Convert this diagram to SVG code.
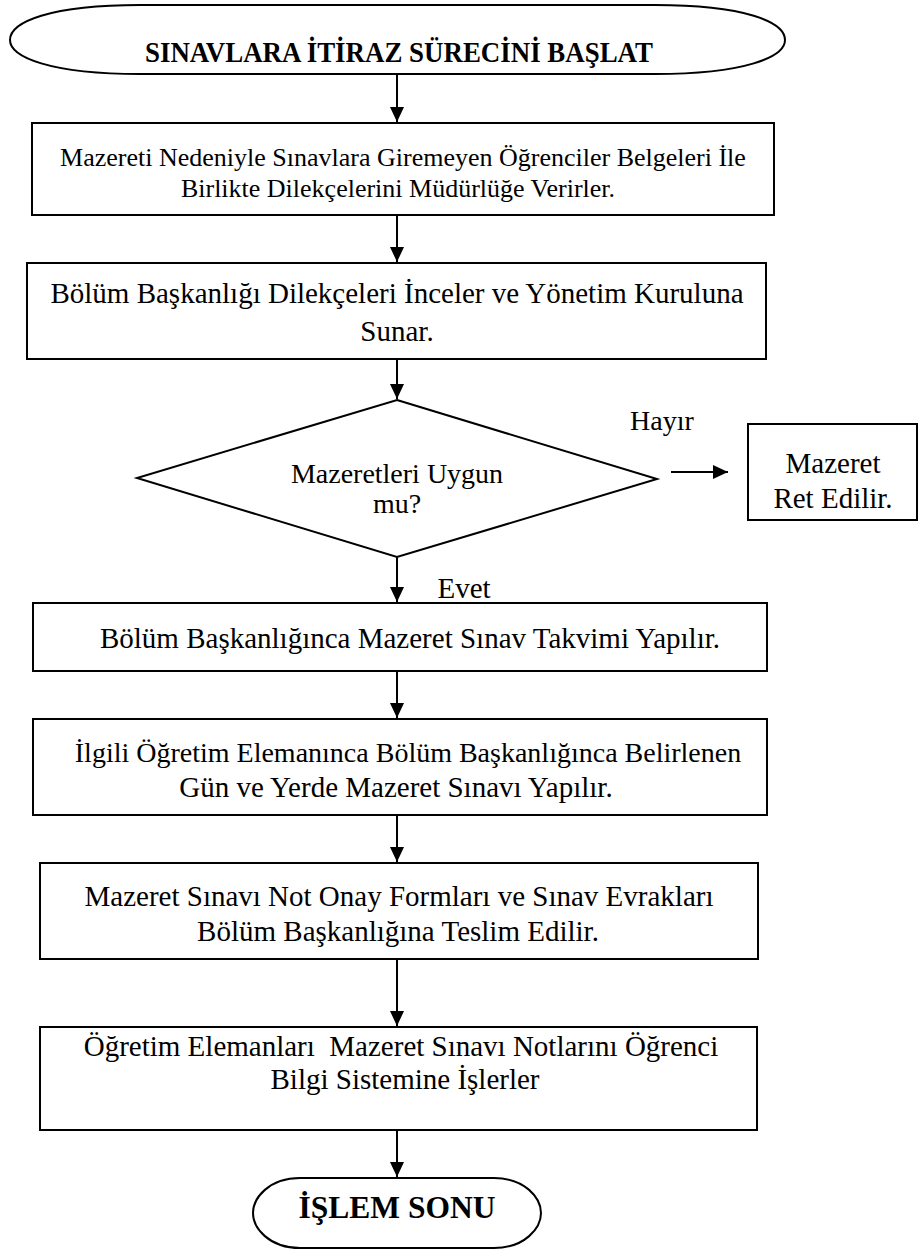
<svg xmlns="http://www.w3.org/2000/svg" width="922" height="1250" viewBox="0 0 922 1250">
<style>
.sh{fill:#fff;stroke:#000;stroke-width:2}
.t{font-family:"Liberation Serif","Times New Roman",serif;fill:#000;text-anchor:middle}
.b{font-weight:bold}
.c{stroke:#000;stroke-width:2;fill:none}
</style>
<defs>
<marker id="ah" markerUnits="userSpaceOnUse" markerWidth="16" markerHeight="16" viewBox="0 0 16 16" refX="15" refY="8" orient="auto">
<path d="M0,1 L15,8 L0,15 Z" fill="#000"/>
</marker>
</defs>
<rect width="922" height="1250" fill="#fff"/>
<g id="start">
<path class="sh" d="M140 5 H655 C745 5 785 22 785 40 C785 57 745 74 655 74 H140 C50 74 10 57 10 40 C10 22 50 5 140 5 Z"/>
<text class="t b" x="399" y="62" font-size="30" textLength="508" lengthAdjust="spacingAndGlyphs">SINAVLARA İTİRAZ SÜRECİNİ BAŞLAT</text>
</g>
<g id="box1">
<rect class="sh" x="32" y="123" width="742" height="92"/>
<text class="t" x="403" y="166" font-size="26">Mazereti Nedeniyle Sınavlara Giremeyen Öğrenciler Belgeleri İle</text>
<text class="t" x="398" y="197" font-size="26">Birlikte Dilekçelerini Müdürlüğe Verirler.</text>
</g>
<g id="box2">
<rect class="sh" x="27" y="263" width="739" height="96"/>
<text class="t" x="397" y="303" font-size="29">Bölüm Başkanlığı Dilekçeleri İnceler ve Yönetim Kuruluna</text>
<text class="t" x="397" y="341" font-size="29">Sunar.</text>
</g>
<g id="decision">
<path class="sh" d="M397 400 L657 479 L397 557 L137 478 Z"/>
<text class="t" x="397" y="483" font-size="28">Mazeretleri Uygun</text>
<text class="t" x="397" y="513" font-size="28">mu?</text>
</g>
<g id="reject">
<rect class="sh" x="748" y="424" width="169" height="96"/>
<text class="t" x="833" y="473" font-size="29">Mazeret</text>
<text class="t" x="833" y="508" font-size="29">Ret Edilir.</text>
</g>
<g id="box3">
<rect class="sh" x="33" y="603" width="734" height="68"/>
<text class="t" x="410" y="648" font-size="29">Bölüm Başkanlığınca Mazeret Sınav Takvimi Yapılır.</text>
</g>
<g id="box4">
<rect class="sh" x="33" y="719" width="734" height="96"/>
<text class="t" x="408" y="762" font-size="28">İlgili Öğretim Elemanınca Bölüm Başkanlığınca Belirlenen</text>
<text class="t" x="396" y="797" font-size="29">Gün ve Yerde Mazeret Sınavı Yapılır.</text>
</g>
<g id="box5">
<rect class="sh" x="40" y="863" width="718" height="96"/>
<text class="t" x="399" y="906" font-size="29">Mazeret Sınavı Not Onay Formları ve Sınav Evrakları</text>
<text class="t" x="398" y="941" font-size="29">Bölüm Başkanlığına Teslim Edilir.</text>
</g>
<g id="box6">
<rect class="sh" x="40" y="1027" width="717" height="103"/>
<text class="t" x="401" y="1056" font-size="29" xml:space="preserve">Öğretim Elemanları  Mazeret Sınavı Notlarını Öğrenci</text>
<text class="t" x="405" y="1089" font-size="29">Bilgi Sistemine İşlerler</text>
</g>
<g id="end">
<path class="sh" d="M300 1178 H494 C525 1178 541 1198 541 1213 C541 1228 525 1248 494 1248 H300 C269 1248 253 1228 253 1213 C253 1198 269 1178 300 1178 Z"/>
<text class="t b" x="397" y="1218" font-size="32" textLength="197" lengthAdjust="spacingAndGlyphs">İŞLEM SONU</text>
</g>
<g id="labels">
<text class="t" x="662" y="430" font-size="28">Hayır</text>
<text class="t" x="464" y="598" font-size="29">Evet</text>
</g>
<g id="connectors">
<line class="c" x1="397" y1="74" x2="397" y2="122" marker-end="url(#ah)"/>
<line class="c" x1="397" y1="215" x2="397" y2="262" marker-end="url(#ah)"/>
<line class="c" x1="397" y1="359" x2="397" y2="399" marker-end="url(#ah)"/>
<line class="c" x1="397" y1="557" x2="397" y2="602" marker-end="url(#ah)"/>
<line class="c" x1="397" y1="671" x2="397" y2="718" marker-end="url(#ah)"/>
<line class="c" x1="397" y1="815" x2="397" y2="862" marker-end="url(#ah)"/>
<line class="c" x1="397" y1="959" x2="397" y2="1026" marker-end="url(#ah)"/>
<line class="c" x1="397" y1="1130" x2="397" y2="1177" marker-end="url(#ah)"/>
<line class="c" x1="671" y1="472" x2="728" y2="472" stroke-width="3" marker-end="url(#ah)"/>
</g>
</svg>
